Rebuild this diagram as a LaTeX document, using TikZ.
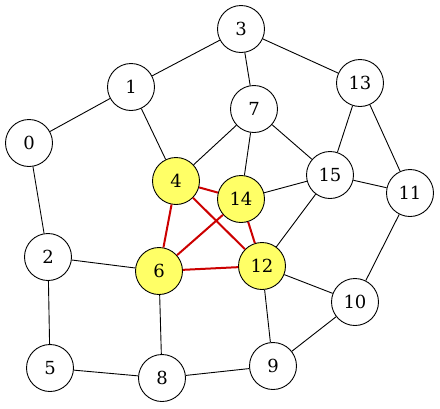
\documentclass[tikz,border=0pt]{standalone}
\usepackage{fontspec}
\setmainfont{DejaVu Serif}
\usepackage{xcolor}
\usetikzlibrary{positioning}
\definecolor{hlfill}{HTML}{FFFF66}
\definecolor{hlred}{HTML}{CC0000}

\begin{document}
\begin{tikzpicture}[
    x=1pt, y=-1pt,
    vtx/.style={draw, circle, line width=0.9pt, minimum size=47pt, inner sep=0pt, font=\fontsize{18}{18}\selectfont},
    hl/.style={vtx, fill=hlfill},
    e/.style={line width=0.9pt},
    r/.style={line width=2pt, hlred}
]
\useasboundingbox (0,0) rectangle (440,408);
\node[vtx] (n3) at (241,29) {3};
\node[vtx] (n13) at (360,83) {13};
\node[vtx] (n1) at (131,87) {1};
\node[vtx] (n7) at (254,109) {7};
\node[vtx] (n0) at (29,143) {0};
\node[vtx] (n15) at (330,175) {15};
\node[vtx] (n11) at (410,193) {11};
\node[hl] (n4) at (176,181) {4};
\node[hl] (n14) at (241,199) {14};
\node[vtx] (n2) at (48,257) {2};
\node[hl] (n6) at (159,271) {6};
\node[hl] (n12) at (262,266) {12};
\node[vtx] (n10) at (355,302) {10};
\node[vtx] (n5) at (50,368) {5};
\node[vtx] (n8) at (162,378) {8};
\node[vtx] (n9) at (273,366) {9};

\draw[e] (n3) -- (n1);
\draw[e] (n3) -- (n7);
\draw[e] (n3) -- (n13);
\draw[e] (n1) -- (n0);
\draw[e] (n1) -- (n4);
\draw[e] (n0) -- (n2);
\draw[e] (n7) -- (n4);
\draw[e] (n7) -- (n14);
\draw[e] (n7) -- (n15);
\draw[e] (n13) -- (n15);
\draw[e] (n13) -- (n11);
\draw[e] (n15) -- (n14);
\draw[e] (n15) -- (n11);
\draw[e] (n15) -- (n12);
\draw[e] (n11) -- (n10);
\draw[e] (n2) -- (n6);
\draw[e] (n2) -- (n5);
\draw[e] (n6) -- (n8);
\draw[e] (n12) -- (n10);
\draw[e] (n12) -- (n9);
\draw[e] (n10) -- (n9);
\draw[e] (n5) -- (n8);
\draw[e] (n8) -- (n9);

\draw[r] (n4) -- (n14);
\draw[r] (n4) -- (n6);
\draw[r] (n4) -- (n12);
\draw[r] (n14) -- (n6);
\draw[r] (n14) -- (n12);
\draw[r] (n6) -- (n12);
\end{tikzpicture}
\end{document}
